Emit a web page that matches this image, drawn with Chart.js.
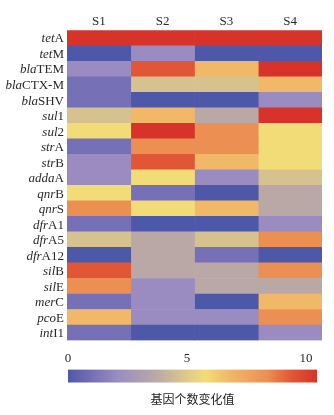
<!DOCTYPE html>
<html>
<head>
<meta charset="utf-8">
<script src="https://cdn.jsdelivr.net/npm/chart.js@4"></script>
<style>
  body { margin: 0; background: #fff; }
  canvas { display: block; }
</style>
</head>
<body>
<canvas id="heat" width="334" height="345"></canvas>
<canvas id="scale" width="334" height="70"></canvas>
<script>
// genes: italic part + upright part
const geneItalic = ["tet", "tet", "bla", "bla", "bla", "sul", "sul", "str", "str", "adda",
  "qnr", "qnr", "dfr", "dfr", "dfr", "sil", "sil", "mer", "pco", "int"];
const geneRoman = ["A", "M", "TEM", "CTX-M", "SHV", "1", "2", "A", "B", "A",
  "B", "S", "A1", "A5", "A12", "B", "E", "C", "E", "I1"];
const samples = ["S1", "S2", "S3", "S4"];

const s1 = [10, 0, 2, 1, 1, 4.5, 5.5, 1, 2, 2, 5.5, 8, 1, 4.5, 0, 9, 8, 1, 6.5, 1];
const s2 = [10, 2, 9, 4.5, 0, 6.5, 10, 8, 9, 5.5, 1, 5.5, 0, 3.5, 3.5, 3.5, 2, 2, 2, 0];
const s3 = [10, 0, 6.5, 4.5, 0, 3.5, 8, 8, 6.5, 2, 0, 6.5, 0, 4.5, 1, 3.5, 3.5, 0, 2, 0];
const s4 = [10, 0, 10, 6.5, 2, 10, 5.5, 5.5, 5.5, 4.5, 3.5, 3.5, 2, 8, 0, 8, 3.5, 6.5, 8, 2];

// colour scale
const stopValues = [0, 1, 2, 3.5, 4.5, 5.5, 6.5, 8, 9, 10];
const stopColors = ["#4e58a8", "#7670b6", "#9a8cc0", "#b9a8a6", "#d6c28f", "#f2dc78",
  "#f1b868", "#ec8f52", "#e15634", "#d7332a"];
const colorTicks = [0, 5, 10];
const colorbarMax = 10.46;

function hexToRgb(h) {
  return [parseInt(h.slice(1, 3), 16), parseInt(h.slice(3, 5), 16), parseInt(h.slice(5, 7), 16)];
}

function valueColor(v) {
  if (v <= stopValues[0]) return stopColors[0];
  for (let i = 1; i < stopValues.length; i++) {
    if (v <= stopValues[i]) {
      const t = (v - stopValues[i - 1]) / (stopValues[i] - stopValues[i - 1]);
      const a = hexToRgb(stopColors[i - 1]);
      const b = hexToRgb(stopColors[i]);
      const c = a.map((x, k) => Math.round(x + (b[k] - x) * t));
      return `rgb(${c[0]},${c[1]},${c[2]})`;
    }
  }
  return stopColors[stopColors.length - 1];
}

const serif = "'Liberation Serif', 'DejaVu Serif', serif";
const seriesList = [s1, s2, s3, s4];

// gene names with italic prefix
const geneLabelPlugin = {
  id: "geneLabels",
  afterDraw(chart) {
    const ctx = chart.ctx;
    const yScale = chart.scales.y;
    const right = chart.chartArea.left - 3;
    ctx.save();
    ctx.fillStyle = "#2a2a2a";
    ctx.textBaseline = "middle";
    geneItalic.forEach((it, i) => {
      const y = yScale.getPixelForValue(i) + 1;
      ctx.font = "13px " + serif;
      const rw = ctx.measureText(geneRoman[i]).width;
      ctx.textAlign = "right";
      ctx.fillText(geneRoman[i], right, y);
      ctx.font = "italic 13px " + serif;
      ctx.fillText(it, right - rw, y);
    });
    ctx.restore();
  },
};

new Chart(document.getElementById("heat"), {
  type: "bar",
  data: {
    labels: geneItalic.map((g, i) => g + geneRoman[i]),
    datasets: seriesList.map((vals, k) => ({
      label: samples[k],
      data: vals.map(() => 1),
      backgroundColor: vals.map(valueColor),
      borderWidth: 0,
      barPercentage: 1,
      categoryPercentage: 1,
    })),
  },
  options: {
    indexAxis: "y",
    responsive: false,
    animation: false,
    layout: { padding: { left: 67, right: 12, top: 12.7, bottom: 4.5 } },
    scales: {
      x: { stacked: true, min: 0, max: 4, display: false },
      x2: {
        type: "category",
        labels: samples,
        position: "top",
        offset: true,
        grid: { display: false, drawTicks: false },
        border: { display: false },
        ticks: { font: { family: serif, size: 13 }, color: "#2a2a2a", padding: 1 },
      },
      y: { stacked: true, display: false },
    },
    plugins: { legend: { display: false }, tooltip: { enabled: false } },
  },
  plugins: [geneLabelPlugin],
});

// colour bar
new Chart(document.getElementById("scale"), {
  type: "bar",
  data: {
    labels: [""],
    datasets: [{
      data: [[0, colorbarMax]],
      borderWidth: 0,
      barPercentage: 1,
      categoryPercentage: 1,
      backgroundColor(context) {
        const area = context.chart.chartArea;
        if (!area) return stopColors[0];
        const g = context.chart.ctx.createLinearGradient(area.left, 0, area.right, 0);
        stopValues.forEach((v, i) => g.addColorStop(v / 10, stopColors[i]));
        return g;
      },
    }],
  },
  options: {
    indexAxis: "y",
    responsive: false,
    animation: false,
    layout: { padding: { left: 68, right: 17, top: 3, bottom: 0 } },
    scales: {
      x: {
        min: 0,
        max: colorbarMax,
        position: "top",
        grid: { display: false, drawTicks: false },
        border: { display: false },
        afterBuildTicks(scale) { scale.ticks = colorTicks.map((v) => ({ value: v })); },
        ticks: { font: { family: serif, size: 13 }, color: "#2a2a2a", padding: 3 },
      },
      y: { display: false },
    },
    plugins: {
      legend: { display: false },
      tooltip: { enabled: false },
      title: {
        display: true,
        text: "基因个数变化值",
        position: "bottom",
        color: "#222",
        font: { family: "'Noto Sans CJK SC'", size: 12, weight: "normal" },
        padding: { top: 10, bottom: 8 },
      },
    },
  },
});
</script>
</body>
</html>
